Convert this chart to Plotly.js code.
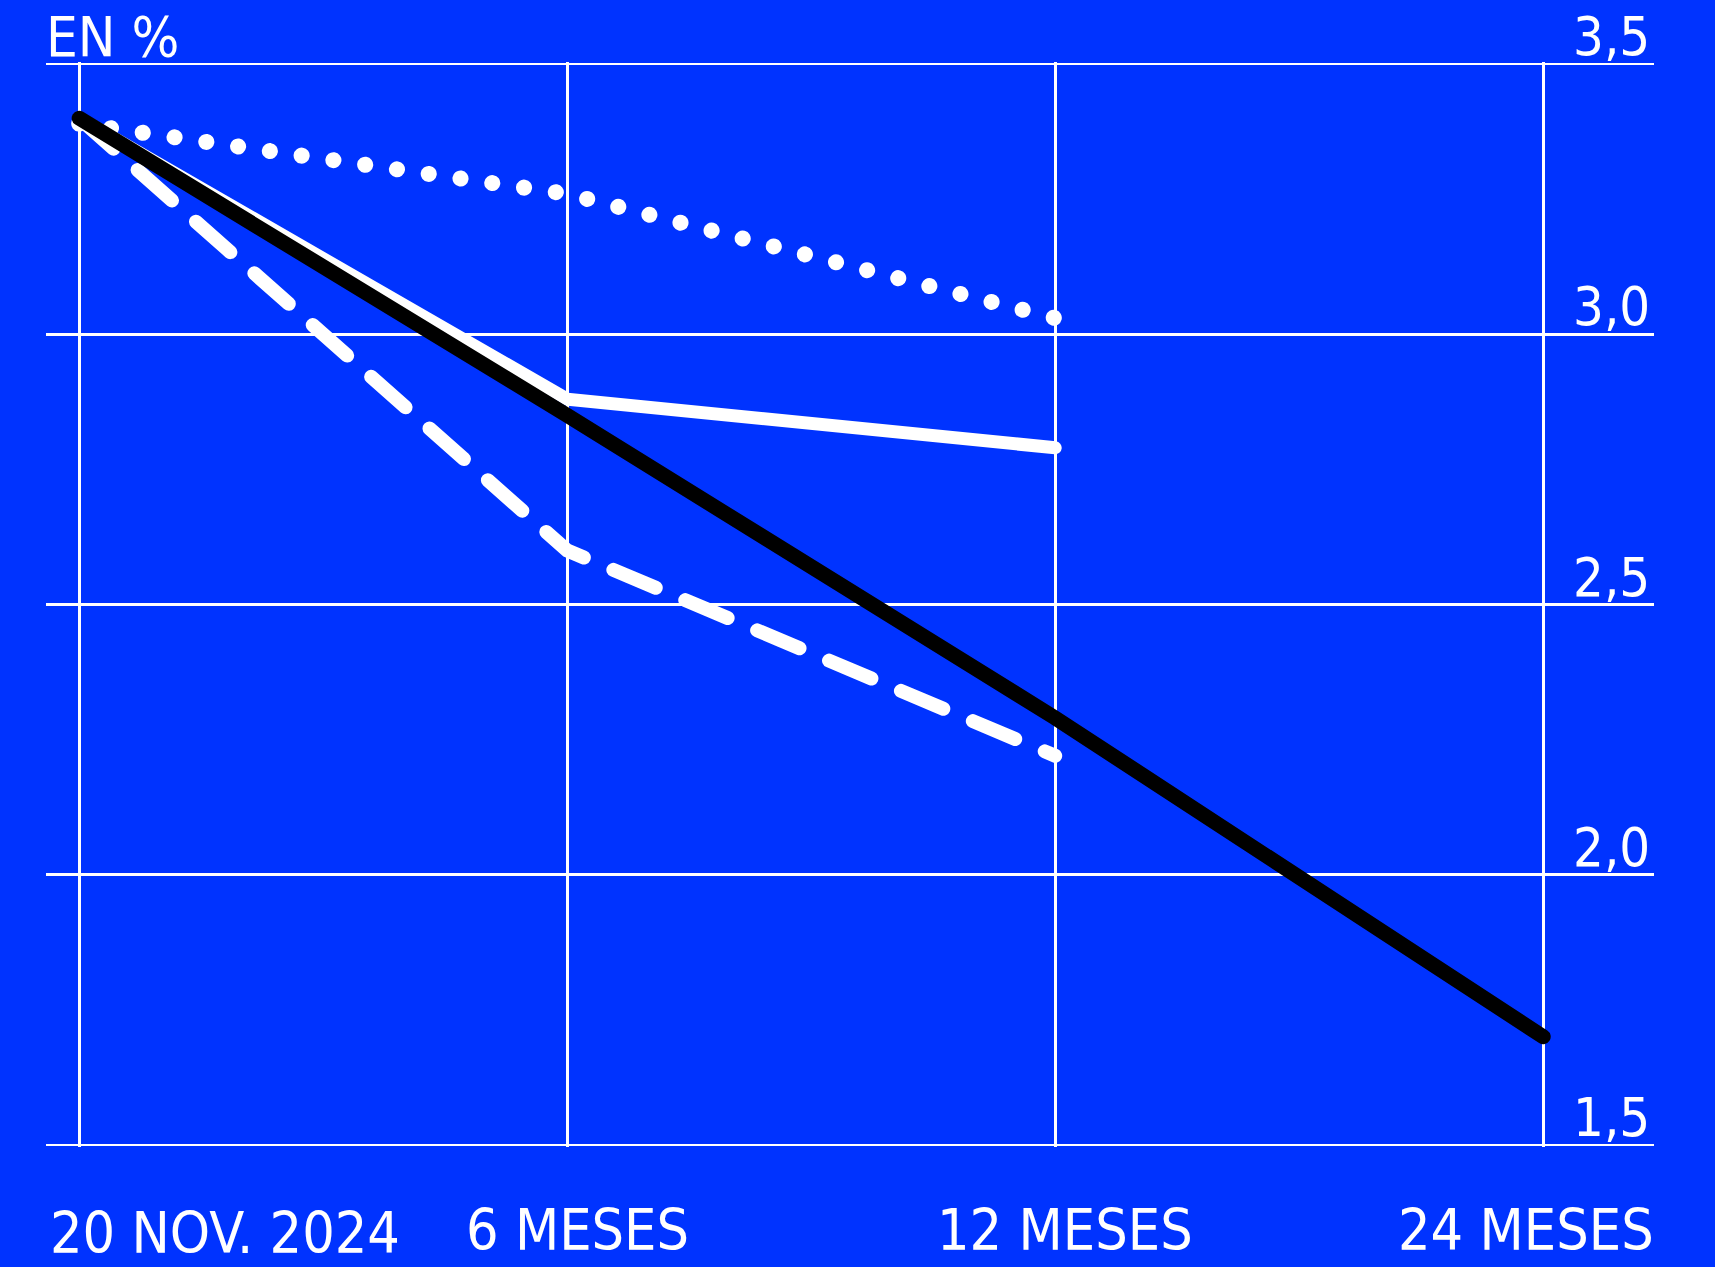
<!DOCTYPE html>
<html>
<head>
<meta charset="utf-8">
<script src="https://cdn.plot.ly/plotly-3.0.1.min.js"></script>
<style>
  html, body { margin: 0; padding: 0; background: #0033ff; }
  #chart { width: 1715px; height: 1267px; }
  .js-line { stroke-linecap: round !important; }
</style>
</head>
<body>
<div id="chart"></div>
<script>
// ---- data ----
const categories = ['20 NOV. 2024', '6 MESES', '12 MESES', '24 MESES'];
const blackSeries  = [3.40, 2.85, 2.29, 1.70];   // black solid, to 24 months
const solidSeries  = [3.40, 2.88, 2.79];         // white solid
const dashedSeries = [3.40, 2.60, 2.22];         // white dashed
const dottedSeries = [3.39, 3.26, 3.03];         // white dotted
const yTickVals = [1.5, 2.0, 2.5, 3.0, 3.5];
const yTickText = ['1,5', '2,0', '2,5', '3,0', '3,5'];
const unitLabel = 'EN %';

// ---- styling ----
const BG = '#0033ff';
const FONT = 'DejaVu Sans Condensed, Liberation Sans Narrow, sans-serif';

const traces = [
  { x: categories.slice(0, dottedSeries.length), y: dottedSeries, mode: 'lines',
    line: { color: '#ffffff', width: 16, dash: '0.1px,32px' } },
  { x: categories.slice(0, dashedSeries.length), y: dashedSeries, mode: 'lines',
    line: { color: '#ffffff', width: 14, dash: '46px,32px' } },
  { x: categories.slice(0, solidSeries.length), y: solidSeries, mode: 'lines',
    line: { color: '#ffffff', width: 13 } },
  { x: categories, y: blackSeries, mode: 'lines',
    line: { color: '#000000', width: 15 } }
];

const last = categories.length - 1;
const xAnn = categories.map((c, i) => ({
  xref: (i === 0 || i === last) ? 'paper' : 'x',
  x: i === 0 ? 0 : (i === last ? 1 : c),
  xanchor: i === 0 ? 'left' : (i === last ? 'right' : 'center'),
  xshift: i === 0 ? 2 : (i === last ? 2 : 10),
  yref: 'paper', y: 0, yanchor: 'top',
  yshift: i === 0 ? -51 : -48,
  text: c, showarrow: false,
  font: { family: FONT, size: 57, color: '#ffffff' }
}));

const yAnn = yTickVals.map((v, i) => ({
  xref: 'paper', x: 1, xanchor: 'right', xshift: -2,
  yref: 'y', y: v, yanchor: 'bottom', yshift: -6,
  text: yTickText[i], showarrow: false,
  font: { family: FONT, size: 54, color: '#ffffff' }
}));

const layout = {
  width: 1715, height: 1267,
  paper_bgcolor: BG, plot_bgcolor: BG,
  margin: { l: 46, r: 61, t: 62, b: 120 },
  showlegend: false,
  title: {
    text: unitLabel, xref: 'paper', x: 0, xanchor: 'left',
    yref: 'paper', y: 1, yanchor: 'bottom', pad: { b: 6 },
    font: { family: FONT, size: 56, color: '#ffffff' }
  },
  xaxis: {
    type: 'category', range: [-0.068, 3.227],
    showgrid: true, gridcolor: '#ffffff', gridwidth: 3,
    showticklabels: false, ticks: '', zeroline: false, showline: false,
    fixedrange: true
  },
  yaxis: {
    range: [1.496, 3.504],
    tickmode: 'array', tickvals: yTickVals,
    showticklabels: false, ticks: '',
    showgrid: true, gridcolor: '#ffffff', gridwidth: 2.5,
    zeroline: false, showline: false, fixedrange: true
  },
  annotations: xAnn.concat(yAnn)
};

Plotly.newPlot('chart', traces, layout, { staticPlot: true, displayModeBar: false });
</script>
</body>
</html>
